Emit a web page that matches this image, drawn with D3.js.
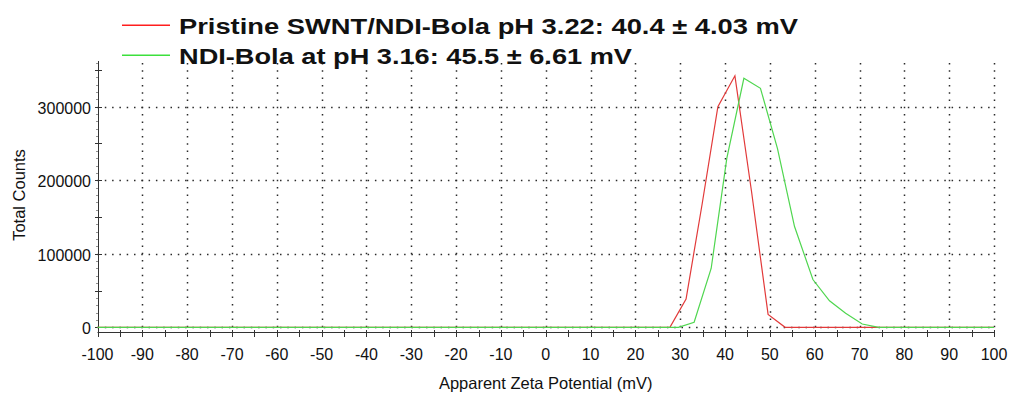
<!DOCTYPE html>
<html>
<head>
<meta charset="utf-8">
<script src="https://cdn.jsdelivr.net/npm/d3@7"></script>
<style>
  html, body { margin: 0; padding: 0; background: #fff; }
  svg { display: block; font-family: "Liberation Sans", Arial, sans-serif; }
</style>
</head>
<body>
<svg id="chart" width="1011" height="397"></svg>
<script>
// Zeta potential distributions (mV vs total counts)
const pristineZeta   = [-100, 27.7, 31.3, 34.9, 38.4, 42.2, 45.9, 49.6, 53.4, 100];
const pristineCounts = [0, 0, 38500, 168000, 300000, 342000, 185000, 17500, 0, 0];

const bolaZeta   = [-100, 29.6, 33.1, 36.9, 40.4, 44.2, 47.9, 51.7, 55.5, 59.6, 63.3, 66.9, 70.6, 74.3, 100];
const bolaCounts = [0, 0, 6800, 80000, 230000, 338600, 325000, 243000, 137000, 65000, 36000, 19000, 4500, 0, 0];

const seriesNames  = ["Pristine SWNT/NDI-Bola pH 3.22: 40.4 \u00b1 4.03 mV",
                      "NDI-Bola at pH 3.16: 45.5 \u00b1 6.61 mV"];
const seriesColors = ["#e23a3a", "#4fd64f"];
const legendColors = ["#ff1e1e", "#3ce03c"];

const xTickLabels = [-100, -90, -80, -70, -60, -50, -40, -30, -20, -10, 0, 10, 20, 30, 40, 50, 60, 70, 80, 90, 100];
const yTickLabels = [0, 100000, 200000, 300000];

const xTitle = "Apparent Zeta Potential (mV)";
const yTitle = "Total Counts";

const svg = d3.select("#chart");

const x = d3.scaleLinear().domain([-100, 100]).range([97.5, 994]);
const y = d3.scaleLinear().domain([0, 300000]).range([327.3, 106.7]);
const axisTop = 61, axisBottom = 332;
const left = x(-100), right = x(100);

// dotted grid
const grid = svg.append("g").attr("stroke", "#2a2a2a").attr("stroke-width", 1.5)
  .attr("stroke-dasharray", "1.5 5.8").attr("fill", "none");
grid.selectAll("line.v").data(xTickLabels.filter(v => v > -100)).join("line")
  .attr("class", "v")
  .attr("x1", d => Math.round(x(d)) + 0.5).attr("x2", d => Math.round(x(d)) + 0.5)
  .attr("y1", y(0)).attr("y2", axisTop);
grid.selectAll("line.h").data(yTickLabels).join("line")
  .attr("class", "h")
  .attr("x1", left).attr("x2", right)
  .attr("y1", d => Math.round(y(d)) + 0.5).attr("y2", d => Math.round(y(d)) + 0.5);

// axes lines
const ax = svg.append("g").attr("stroke", "#333").attr("stroke-width", 1).attr("fill", "none");
ax.append("line").attr("x1", left).attr("x2", right + 0.5).attr("y1", axisBottom + 0.5).attr("y2", axisBottom + 0.5);
ax.append("line").attr("x1", Math.round(left) + 0.5).attr("x2", Math.round(left) + 0.5).attr("y1", axisTop).attr("y2", axisBottom + 0.5);

// x ticks every 5 mV
const xTickAll = d3.range(-100, 100.1, 5);
ax.selectAll("line.xt").data(xTickAll).join("line").attr("class", "xt")
  .attr("x1", d => Math.round(x(d)) + 0.5).attr("x2", d => Math.round(x(d)) + 0.5)
  .attr("y1", axisBottom - 2).attr("y2", axisBottom + 5);

// y ticks: 50000 steps (long), 10000 steps (short)
const yTop = y.invert(axisTop);
ax.selectAll("line.ytm").data(d3.range(0, yTop, 50000)).join("line").attr("class", "ytm")
  .attr("x1", Math.round(left) - 3).attr("x2", Math.round(left) + 4)
  .attr("y1", d => Math.round(y(d)) + 0.5).attr("y2", d => Math.round(y(d)) + 0.5);
ax.selectAll("line.yts").data(d3.range(0, yTop, 10000).filter(d => d % 50000 !== 0)).join("line").attr("class", "yts")
  .attr("stroke-width", 0.8).attr("stroke", "#777")
  .attr("x1", Math.round(left) - 2).attr("x2", Math.round(left))
  .attr("y1", d => Math.round(y(d)) + 0.5).attr("y2", d => Math.round(y(d)) + 0.5);

// tick labels
svg.append("g").attr("font-size", 16).attr("fill", "#111").attr("text-anchor", "middle")
  .selectAll("text").data(xTickLabels).join("text")
  .attr("x", d => x(d)).attr("y", 359.5).text(d => d);
svg.append("g").attr("font-size", 16).attr("fill", "#111").attr("text-anchor", "end")
  .selectAll("text").data(yTickLabels).join("text")
  .attr("x", 91).attr("y", d => y(d) + 7).text(d => d);

// axis titles
svg.append("text").attr("x", x(0)).attr("y", 389.3).attr("text-anchor", "middle")
  .attr("font-size", 16.5).attr("fill", "#111").text(xTitle);
svg.append("text").attr("transform", "translate(25,195) rotate(-90)").attr("text-anchor", "middle")
  .attr("font-size", 16.5).attr("fill", "#111").text(yTitle);

// data lines
const line = d3.line().x(d => x(d[0])).y(d => y(d[1]));
const series = [
  d3.zip(pristineZeta, pristineCounts),
  d3.zip(bolaZeta, bolaCounts)
];
svg.append("g").attr("fill", "none").attr("stroke-width", 1.2)
  .selectAll("path").data(series).join("path")
  .attr("stroke", (d, i) => seriesColors[i])
  .attr("d", line);

// legend
const legendBase = [34.3, 64.3];
const legendWidth = [619, 453];
const lg = svg.append("g");
seriesNames.forEach((name, i) => {
  lg.append("line").attr("x1", 122).attr("x2", 170)
    .attr("y1", legendBase[i] - 9).attr("y2", legendBase[i] - 9)
    .attr("stroke", legendColors[i]).attr("stroke-width", 1.4);
  lg.append("text").attr("x", 179).attr("y", legendBase[i])
    .attr("font-size", 22.5).attr("font-weight", "bold").attr("fill", "#111")
    .attr("textLength", legendWidth[i]).attr("lengthAdjust", "spacingAndGlyphs")
    .text(name);
});
</script>
</body>
</html>
